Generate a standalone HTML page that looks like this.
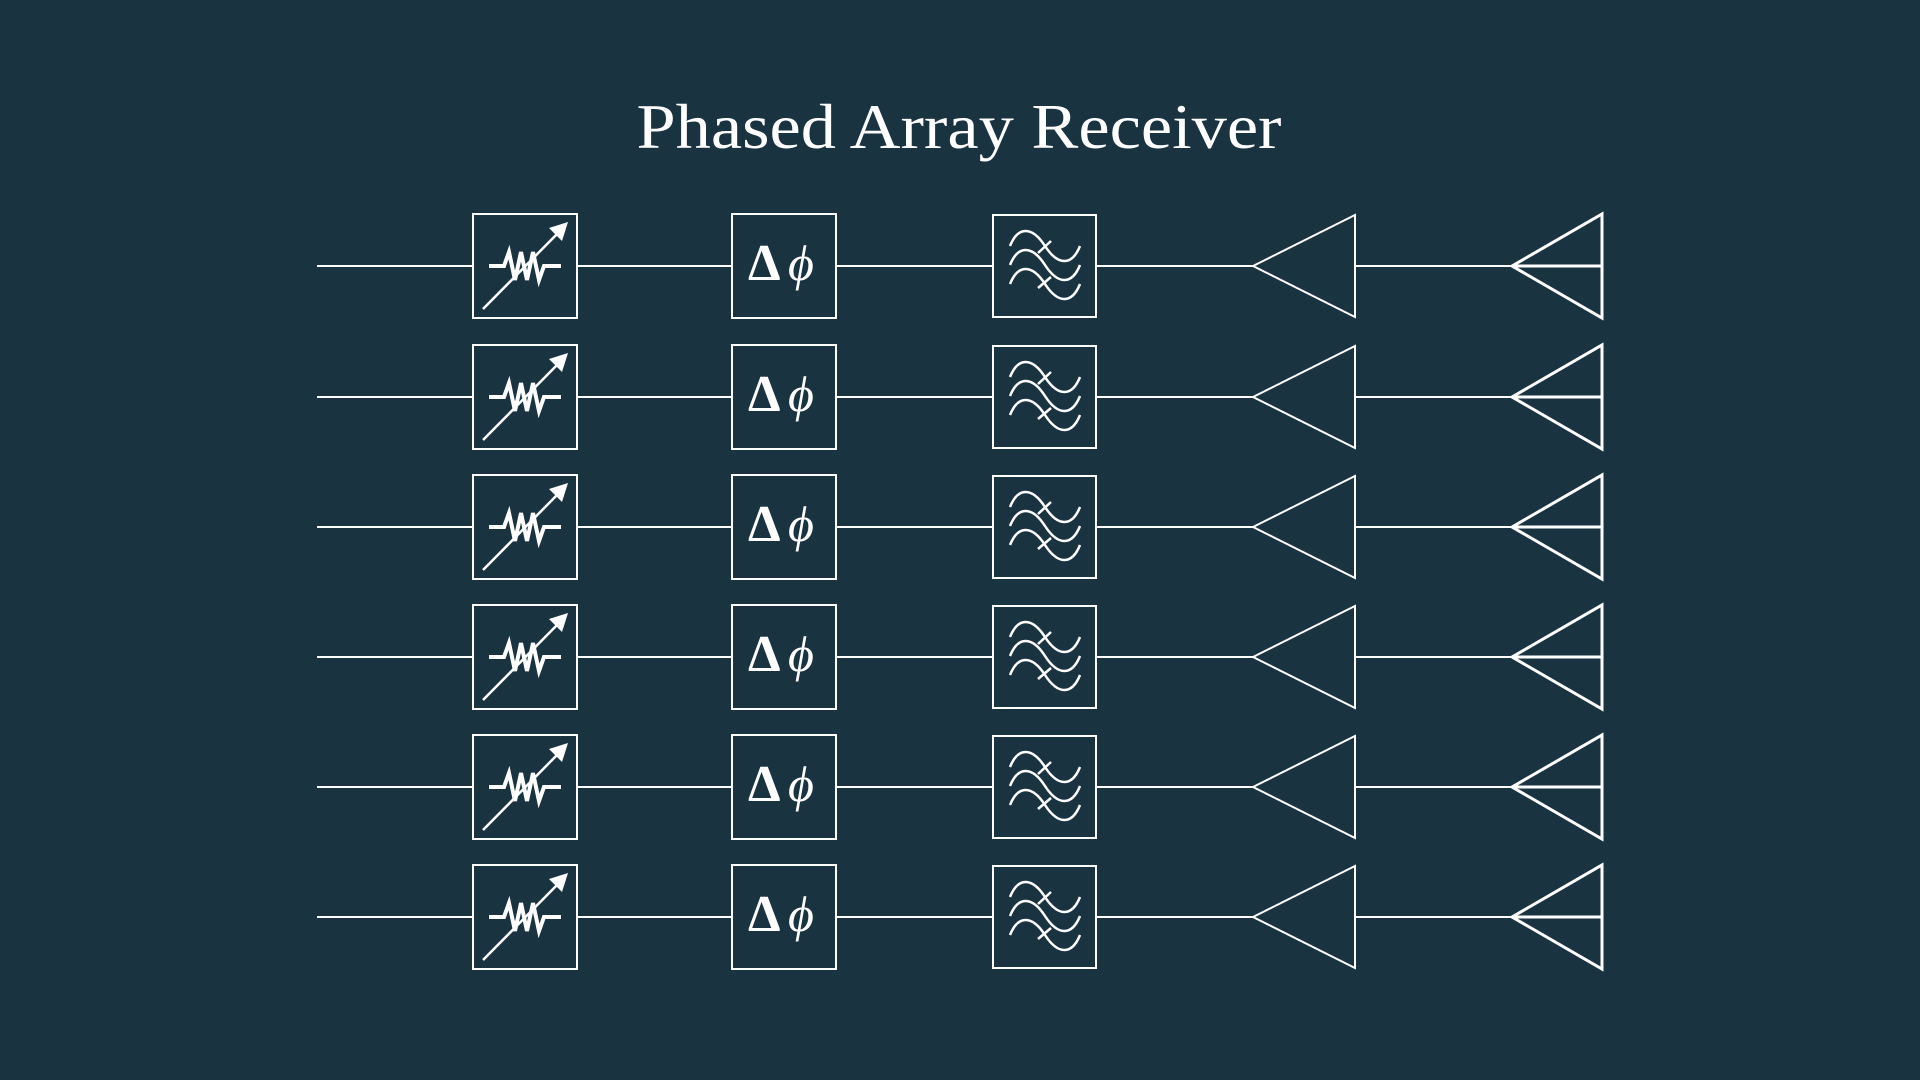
<!DOCTYPE html>
<html><head><meta charset="utf-8"><style>
html,body{margin:0;padding:0;background:#193341;}
svg{display:block}
</style></head><body>
<svg width="1920" height="1080" viewBox="0 0 1920 1080" xmlns="http://www.w3.org/2000/svg">
<rect width="1920" height="1080" fill="#193341"/>
<text x="959" y="148" text-anchor="middle" font-family="Liberation Serif, serif" font-size="64" fill="#fff" textLength="645" lengthAdjust="spacingAndGlyphs">Phased Array Receiver</text>
<defs>
<g id="row" fill="none" stroke="#fff" stroke-width="2">
  <line x1="317" y1="0" x2="473" y2="0"/>
  <rect x="473" y="-52" width="104" height="104"/>
  <line x1="577" y1="0" x2="732" y2="0"/>
  <rect x="732" y="-52" width="104" height="104"/>
  <line x1="836" y1="0" x2="993" y2="0"/>
  <rect x="993" y="-51" width="103" height="102"/>
  <line x1="1096" y1="0" x2="1253" y2="0"/>
  <polygon points="1253,0 1355,-51 1355,51"/>
  <line x1="1355" y1="0" x2="1512" y2="0"/>
  <polygon points="1512,0 1602,-52 1602,52" stroke-width="3"/>
  <line x1="1512" y1="0" x2="1602" y2="0" stroke-width="3"/>
  <!-- resistor -->
  <polyline points="489,0 504,0 509,-14 515,14 521,-14 527,14 533,-14 539,14 544,0 561,0" stroke-width="4" stroke-linejoin="miter"/>
  <line x1="483" y1="43" x2="560" y2="-35" stroke-width="2.5"/>
  <polygon points="568,-44 549,-38 562,-25" fill="#fff" stroke="none"/>
  <!-- filter -->
  <path d="M1010,-20 C1018,-40 1032,-40 1045,-20 S1072,0 1080,-20" stroke-width="2.5"/>
  <path d="M1010,-1 C1018,-21 1032,-21 1045,-1 S1072,19 1080,-1" stroke-width="2.5"/>
  <path d="M1010,18 C1018,-2 1032,-2 1045,18 S1072,38 1080,18" stroke-width="2.5"/>
  <line x1="1051" y1="-25" x2="1038" y2="-13" stroke-width="2.5"/>
  <line x1="1051" y1="11" x2="1038" y2="22" stroke-width="2.5"/>
  <!-- delta phi -->
  <text x="748" y="14" font-family="Liberation Serif, serif" font-size="52" font-weight="bold" fill="#fff" stroke="none">Δ</text>
  <text x="788" y="14" font-family="Liberation Serif, serif" font-size="50" font-style="italic" fill="#fff" stroke="none">ϕ</text>
</g>
</defs>
<use href="#row" y="266"/>
<use href="#row" y="397"/>
<use href="#row" y="527"/>
<use href="#row" y="657"/>
<use href="#row" y="787"/>
<use href="#row" y="917"/>
</svg>
</body></html>
